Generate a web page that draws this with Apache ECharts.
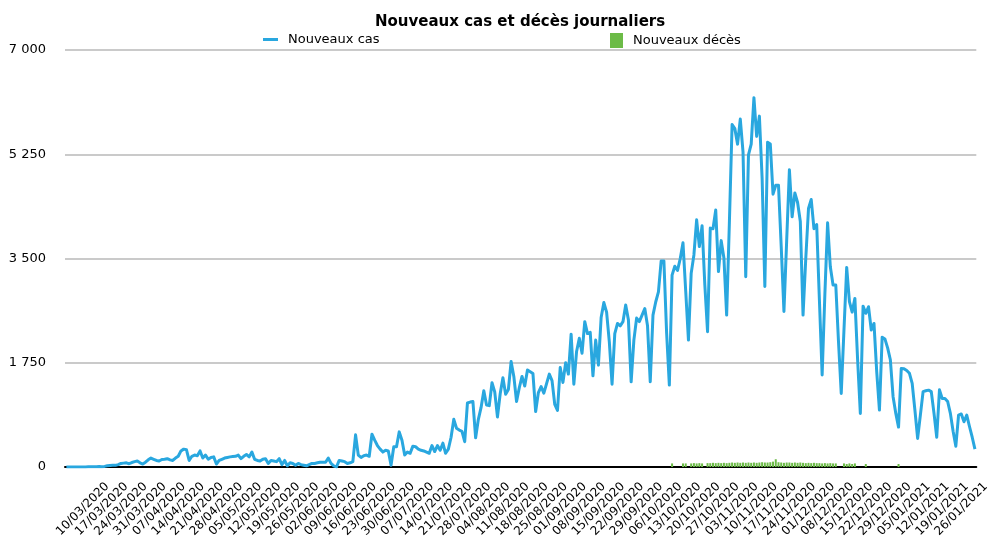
<!DOCTYPE html>
<html><head><meta charset="utf-8">
<script src="https://cdn.jsdelivr.net/npm/echarts@6/dist/echarts.min.js"></script>
<style>html,body{margin:0;padding:0;background:#fff}#c{width:1000px;height:549px}</style>
</head><body><div id="c"></div><script>
// ---- data ----
const firstDay = [2020, 3, 4];   // 04/03/2020, one value per day
const casValues = [
  0,0,0,0,1,1,2,2,3,3,
  5,4,8,6,10,20,25,30,28,40,
  60,65,70,55,75,90,100,70,50,80,
  120,150,130,110,100,125,130,140,120,110,
  150,180,270,300,290,110,180,200,190,270,
  150,200,130,160,170,50,110,130,150,160,
  170,175,180,200,140,180,210,170,250,130,
  110,100,130,140,60,110,100,90,140,40,
  110,20,70,60,30,60,40,30,20,40,
  60,60,70,80,80,80,150,60,20,0,
  110,100,90,60,70,90,540,
  200,160,190,200,180,550,450,360,300,250,
  280,270,30,340,340,590,450,200,250,230,
  350,340,300,280,270,250,230,360,260,360,
  280,400,230,
  300,500,800,650,620,600,425,1075,1090,1100,
  490,800,1000,1280,1040,1030,1415,1260,840,1230,
  1500,1220,1300,1770,1520,1100,1330,1520,1360,1630,
  1600,1570,930,
  1250,1350,1240,1400,1560,1450,1050,950,1670,1420,
  1750,1560,2230,1390,1940,2160,1910,2440,2240,2260,
  1530,2130,1710,2510,2760,2600,2100,1390,2240,2410,
  2370,2440,2720,2470,1430,2130,2500,2440,2550,2660,
  2370,1430,2550,2770,2940,3460,3460,2250,1375,3220,
  3370,3300,3500,3765,2950,2130,
  3250,3560,4150,3700,4050,3060,2270,4010,4000,4315,
  3280,3800,3510,2550,4100,5750,5680,5420,5840,5290,
  3195,5240,5420,6200,5550,5890,4850,3030,5450,5420,
  4580,4730,4730,3700,2610,3800,
  4990,4200,4600,4440,4120,2550,3500,4340,4490,4000,
  4070,2800,1545,2900,4100,3360,3055,3055,2100,1235,
  2300,3350,2775,2600,2830,1800,900,2700,2580,2690,
  2300,2410,1600,955,2180,2150,2000,
  1800,1180,900,670,1655,1650,1620,1573,1405,955,
  480,870,1265,1280,1290,1265,900,500,1295,1150,
  1150,1100,900,600,350,870,890,760,870,680,
  500,300
];
const decesFirstDay = '10/10/2020';
const decesValues = [
  0,0,60,0,0,0,60,60,0,60,
  65,60,65,60,0,65,65,70,65,70,
  65,70,65,70,75,70,75,70,75,70,
  75,70,75,70,75,80,75,75,80,90,
  130,80,75,70,75,75,70,75,70,75,
  70,65,70,65,70,65,65,60,65,60,
  65,60,60,0,0,60,50,60,50,60,
  0,0,0,50,0,0,0,0,0,0,
  0,0,0,0,0,50
];
const yTicks = [0, 1750, 3500, 5250, 7000];
const seriesNames = ['Nouveaux cas', 'Nouveaux décès'];
const titleText = 'Nouveaux cas et décès journaliers';

// ---- build categories ----
function pad(n){ return (n < 10 ? '0' : '') + n; }
const categories = [];
const t0 = Date.UTC(firstDay[0], firstDay[1] - 1, firstDay[2]);
for (let i = 0; i < casValues.length; i++) {
  const d = new Date(t0 + i * 86400000);
  categories.push(pad(d.getUTCDate()) + '/' + pad(d.getUTCMonth() + 1) + '/' + d.getUTCFullYear());
}
const decesOffset = categories.indexOf(decesFirstDay);
const decesData = categories.map((c, i) =>
  (i >= decesOffset && i < decesOffset + decesValues.length) ? decesValues[i - decesOffset] : null);

const FONT = 'DejaVu Sans';
function fmtNum(v){ return String(v).replace(/\B(?=(\d{3})+(?!\d))/g, ' '); }

const chart = echarts.init(document.getElementById('c'), null, {renderer: 'canvas'});
chart.setOption({
  animation: false,
  backgroundColor: '#fff',
  title: {
    text: titleText,
    left: 375,
    top: 15,
    padding: 0,
    textStyle: {fontFamily: FONT, fontSize: 15, fontWeight: 'bold', color: '#000'}
  },
  legend: [
    {
      data: [seriesNames[0]], left: 258, top: 28,
      icon: 'rect', itemWidth: 15, itemHeight: 3,
      textStyle: {fontFamily: FONT, fontSize: 13, color: '#000', padding: [0, 0, 0, 5]}
    },
    {
      data: [seriesNames[1]], left: 605, top: 28,
      icon: 'rect', itemWidth: 13, itemHeight: 15,
      textStyle: {fontFamily: FONT, fontSize: 13, color: '#000', padding: [0, 0, 0, 5]}
    }
  ],
  grid: {left: 65, right: 23.7, top: 50, bottom: 82, containLabel: false},
  xAxis: {
    type: 'category',
    data: categories,
    boundaryGap: true,
    axisLine: {show: true, lineStyle: {color: '#000', width: 2}},
    axisTick: {show: false},
    splitLine: {show: false},
    axisLabel: {
      interval: (index) => index % 7 === 6,
      rotate: 45,
      align: 'center',
      verticalAlign: 'middle',
      margin: 42,
      fontFamily: FONT,
      fontSize: 12,
      color: '#000'
    }
  },
  yAxis: {
    type: 'value',
    min: yTicks[0],
    max: yTicks[yTicks.length - 1],
    interval: yTicks[1] - yTicks[0],
    axisLine: {show: false},
    axisTick: {show: false},
    splitLine: {show: true, lineStyle: {color: '#b9b9b9', width: 1.5}},
    axisLabel: {
      margin: 19,
      fontFamily: FONT,
      fontSize: 13,
      color: '#000',
      formatter: fmtNum
    }
  },
  series: [
    {
      name: seriesNames[1],
      type: 'bar',
      data: decesData,
      barWidth: 2,
      itemStyle: {color: '#6cbb47'},
      z: 2
    },
    {
      name: seriesNames[0],
      type: 'line',
      data: casValues,
      showSymbol: false,
      symbol: 'none',
      lineStyle: {color: '#29a7df', width: 3, join: 'round'},
      itemStyle: {color: '#29a7df'},
      z: 3
    }
  ]
});
</script></body></html>
